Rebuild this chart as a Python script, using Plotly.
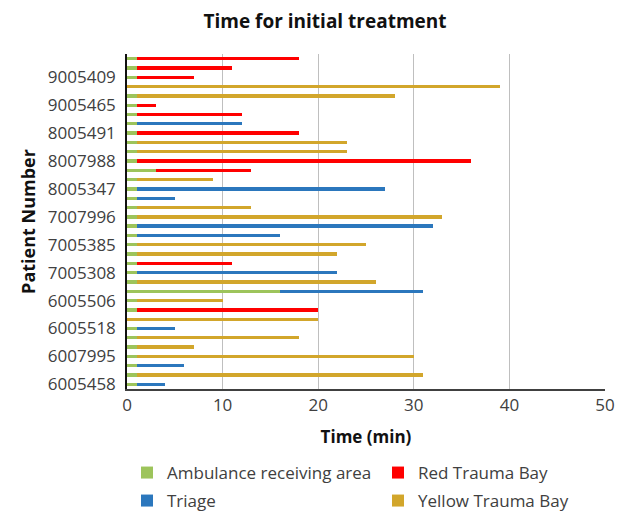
import plotly.graph_objects as go

# Rows listed top to bottom; "" = patient number not shown on the axis
patients = ["", "", "9005409", "", "", "9005465", "", "", "8005491",
            "", "", "8007988", "", "", "8005347", "", "", "7007996",
            "", "", "7005385", "", "", "7005308", "", "", "6005506",
            "", "", "6005518", "", "", "6007995", "", "", "6005458"]

ambulance = [1, 1, 1, 0, 1, 1, 1, 1, 1, 1, 1, 1, 3, 1, 1, 1, 1, 1,
             1, 1, 1, 1, 1, 1, 1, 16, 1, 1, 0, 1, 1, 1, 1, 1, 1, 1]
red_bay = [17, 10, 6, 0, 0, 2, 11, 0, 17, 0, 0, 35, 10, 0, 0, 0, 0, 0,
           0, 0, 0, 0, 10, 0, 0, 0, 0, 19, 0, 0, 0, 0, 0, 0, 0, 0]
triage = [0, 0, 0, 0, 0, 0, 0, 11, 0, 0, 0, 0, 0, 0, 26, 4, 0, 0,
          31, 15, 0, 0, 0, 21, 0, 15, 0, 0, 0, 4, 0, 0, 0, 5, 0, 3]
yellow_bay = [0, 0, 0, 39, 27, 0, 0, 0, 0, 22, 22, 0, 0, 8, 0, 0, 12, 32,
              0, 0, 24, 21, 0, 0, 25, 0, 9, 0, 20, 0, 17, 6, 29, 0, 30, 0]

rows = list(range(len(patients)))
tick_rows = [i for i, p in enumerate(patients) if p]
tick_text = [p for p in patients if p]

FONT = "Open Sans"
TXT = "#404040"
# the page body adds an 8px margin, so the figure is sized to fit the window
W, H = 622, 505

fig = go.Figure()
series = [
    ("Ambulance receiving area", ambulance, "#9DC45B", "legend", 119, 465),
    ("Red Trauma Bay", red_bay, "#FF0000", "legend2", 370, 465),
    ("Triage", triage, "#2B77BD", "legend3", 119, 493),
    ("Yellow Trauma Bay", yellow_bay, "#D2A62B", "legend4", 370, 493),
]
legend_layouts = {}
for name, vals, color, lg, lx, ly in series:
    fig.add_trace(go.Bar(x=vals, y=rows, name=name, orientation="h",
                         marker=dict(color=color, line=dict(width=0)),
                         legend=lg, showlegend=True))
    legend_layouts[lg] = dict(orientation="h", xref="container", yref="container",
                              x=lx / W, xanchor="left", y=1 - ly / H,
                              yanchor="middle", font=dict(size=17, color=TXT),
                              bgcolor="rgba(0,0,0,0)")

fig.update_layout(
    width=W, height=H,
    margin=dict(l=119, r=25, t=46, b=124),
    showlegend=True,
    barmode="stack", bargap=0.64,
    plot_bgcolor="white", paper_bgcolor="white",
    font=dict(family=FONT, color=TXT),
    title=dict(text="<b>Time for initial treatment</b>", x=317 / W, xanchor="center",
               y=1 - 13 / H, yanchor="middle", xref="container", yref="container",
               font=dict(size=19, color="#111111")),
    xaxis=dict(range=[0, 50], dtick=10, showgrid=True, gridcolor="#BFBFBF",
               gridwidth=1, showline=True, linecolor="#404040", linewidth=1.5,
               zeroline=False, automargin=False, tickfont=dict(size=17, color=TXT),
               title=dict(text="<b>Time (min)</b>", font=dict(size=17, color="#111111"),
                          standoff=16)),
    yaxis=dict(range=[35.5, -0.5], tickmode="array", tickvals=tick_rows,
               ticktext=tick_text, showgrid=False, zeroline=False,
               showline=True, linecolor="#111111", linewidth=1.5,
               ticks="", ticklabelstandoff=6, automargin=False,
               tickfont=dict(size=17, color=TXT),
               title=dict(text="<b>Patient Number</b>", font=dict(size=18, color="#111111"),
                          standoff=8)),
    **legend_layouts,
)

fig.write_html("out.html")
